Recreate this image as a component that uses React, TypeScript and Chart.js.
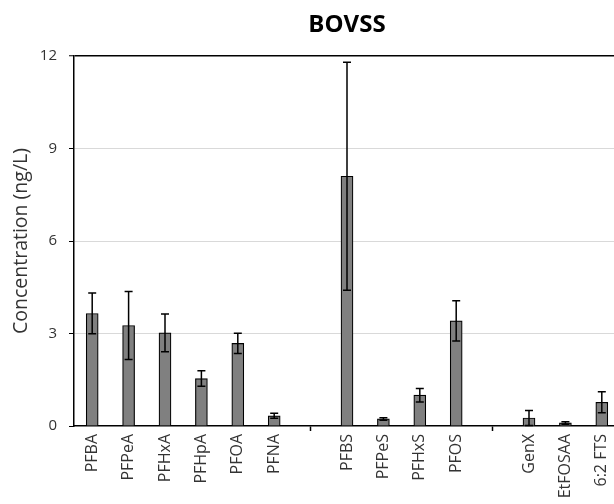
import React, { useEffect, useRef } from "react";
import { Chart, registerables } from "chart.js";

Chart.register(...registerables);

const chartTitle = "BOVSS";
const yAxisTitle = "Concentration (ng/L)";
const categories = [
  "PFBA", "PFPeA", "PFHxA", "PFHpA", "PFOA", "PFNA", "",
  "PFBS", "PFPeS", "PFHxS", "PFOS", "",
  "GenX", "EtFOSAA", "6:2 FTS",
];
const means = [3.65, 3.26, 3.02, 1.54, 2.68, 0.33, null, 8.1, 0.23, 1.0, 3.41, null, 0.26, 0.1, 0.77];
const errors = [0.66, 1.1, 0.61, 0.25, 0.33, 0.08, null, 3.7, 0.04, 0.22, 0.65, null, 0.24, 0.04, 0.34];
const yTicks = [0, 3, 6, 9, 12];

const FONT = "'Open Sans', 'Noto Sans', sans-serif";

const errorBarPlugin = {
  id: "errorBars",
  afterDatasetsDraw(chart: any) {
    const { ctx, scales } = chart;
    const meta = chart.getDatasetMeta(0);
    const y = scales.y;
    ctx.save();
    ctx.strokeStyle = "#000";
    ctx.lineWidth = 1.5;
    meta.data.forEach((bar: any, i: number) => {
      const m = means[i];
      const e = errors[i];
      if (m == null || e == null) return;
      const x = bar.x;
      const yTop = y.getPixelForValue(m + e);
      const yBot = y.getPixelForValue(Math.max(0, m - e));
      const cap = 4;
      ctx.beginPath();
      ctx.moveTo(x, yTop);
      ctx.lineTo(x, yBot);
      ctx.moveTo(x - cap, yTop);
      ctx.lineTo(x + cap, yTop);
      ctx.moveTo(x - cap, yBot);
      ctx.lineTo(x + cap, yBot);
      ctx.stroke();
    });
    ctx.restore();
  },
};

const plotTitlePlugin = {
  id: "plotTitle",
  afterDraw(chart: any) {
    const { ctx, chartArea } = chart;
    ctx.save();
    ctx.fillStyle = "#000";
    ctx.font = `bold 24px ${FONT}`;
    ctx.textAlign = "center";
    ctx.textBaseline = "middle";
    ctx.fillText(chartTitle, (chartArea.left + chartArea.right) / 2, 25);
    ctx.restore();
  },
};

export default function App() {
  const ref = useRef<HTMLCanvasElement>(null);
  useEffect(() => {
    if (!ref.current) return;
    const chart = new Chart(ref.current, {
      type: "bar",
      data: {
        labels: categories,
        datasets: [
          {
            data: means as any,
            backgroundColor: "#808080",
            borderColor: "#000",
            borderWidth: 1.2,
            barThickness: 12,
          },
        ],
      },
      options: {
        responsive: false,
        animation: false,
        devicePixelRatio: 1,
        layout: { padding: { top: 56, left: 0, right: 70, bottom: 0 } },
        plugins: {
          legend: { display: false },
          tooltip: { enabled: false },
          title: { display: false },
        },
        scales: {
          x: {
            afterFit(scale: any) {
              scale.height = 78;
            },
            border: { color: "#000", width: 1.5 },
            grid: {
              display: true,
              drawOnChartArea: false,
              offset: false,
              tickLength: 5,
              tickColor: (c: any) => (categories[c.index] === "" ? "#000" : "rgba(0,0,0,0)"),
              tickWidth: 1.5,
            },
            ticks: {
              autoSkip: false,
              maxRotation: 90,
              minRotation: 90,
              padding: 3,
              color: "#333",
              font: { family: FONT, size: 16 },
            },
          },
          y: {
            min: 0,
            max: 12,
            afterFit(scale: any) {
              scale.width = 74;
            },
            afterBuildTicks(scale: any) {
              scale.ticks = yTicks.map((v) => ({ value: v }));
            },
            border: { color: "#000", width: 1.5 },
            grid: {
              color: (c: any) =>
                c.tick && c.tick.value === 12 ? "#000" : c.tick && c.tick.value === 0 ? "rgba(0,0,0,0)" : "#d9d9d9",
              lineWidth: (c: any) => (c.tick && c.tick.value === 12 ? 1.5 : 1),
              tickColor: "#000",
              tickLength: 5,
              tickWidth: 1,
            },
            ticks: {
              padding: 12,
              color: "#333",
              font: { family: FONT, size: 15 },
            },
            title: {
              display: true,
              text: yAxisTitle,
              color: "#333",
              font: { family: FONT, size: 19.5 },
              padding: { top: 10, bottom: 0 },
            },
          },
        },
      },
      plugins: [errorBarPlugin, plotTitlePlugin],
    });
    return () => chart.destroy();
  }, []);
  return (
    <div
      style={{
        position: "absolute",
        left: 0,
        top: 0,
        width: 614,
        height: 504,
        overflow: "hidden",
        background: "#fff",
      }}
    >
      <canvas ref={ref} width={690} height={504} style={{ display: "block", width: 690, height: 504 }} />
    </div>
  );
}
